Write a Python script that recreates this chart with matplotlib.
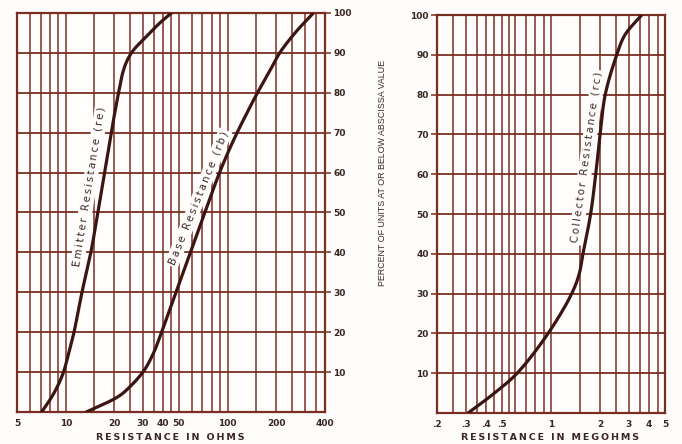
import numpy as np
import matplotlib
matplotlib.use("Agg")
import matplotlib.pyplot as plt
from matplotlib.ticker import FixedLocator, NullFormatter

# ---------------- data ----------------
emitter_ohms = [7.1, 7.83, 8.53, 9.15, 9.69, 10.48, 11.25, 12.6, 14.3, 15.8, 17.4, 19.1, 21.2, 22.5, 23.9, 26.1, 31.5, 37.9, 45.0]
emitter_pct = [0, 2.5, 5, 7.5, 10, 15, 20, 30, 40, 50, 60, 70, 80, 85, 88, 90.6, 94.1, 97.4, 100]

base_ohms = [13.4, 20.2, 23.0, 30.0, 34.8, 39.1, 48.0, 59.0, 72.6, 80.2, 89.2, 100.5, 114.5, 132.0, 153.0, 183.0, 210.0, 261.0, 339.0]
base_pct = [0, 3.4, 5, 10, 14.7, 20, 30, 40, 50, 55, 60, 65, 70, 75, 80, 85.6, 90, 95, 100]

collector_meg = [0.31, 0.45, 0.62, 0.96, 1.34, 1.49, 1.57, 1.75, 1.88, 2.0, 2.15, 2.53, 2.84, 3.6]
collector_pct = [0, 5, 10, 20, 30, 35, 40, 50, 60, 70, 80, 90, 95, 100]

ohm_ticks = [5, 10, 20, 30, 40, 50, 100, 200, 400]
ohm_labels = ["5", "10", "20", "30", "40", "50", "100", "200", "400"]
ohm_grid = [6, 7, 8, 9, 15, 25, 35, 45, 60, 70, 80, 90, 150, 250, 300, 350]

meg_ticks = [0.2, 0.3, 0.4, 0.5, 1, 2, 3, 4, 5]
meg_labels = [".2", ".3", ".4", ".5", "1", "2", "3", "4", "5"]
meg_grid = [0.25, 0.35, 0.45, 0.55, 0.6, 0.7, 0.8, 0.9, 1.5, 2.5, 3.5, 4.5]

pct_ticks = [10, 20, 30, 40, 50, 60, 70, 80, 90, 100]
pct_labels = [str(v) for v in pct_ticks]

# ---------------- style ----------------
GRID = "#7a2e22"
CURVE = "#3a1512"
TEXT = "#3b2522"
THIN = "\u2009"


def spaced(s):
    return THIN.join(s)


def smooth_path(xs, ys, sx, sy, per=20):
    """Centripetal Catmull-Rom rendering through the read points (in log-x space)."""
    P = np.column_stack([np.log10(np.asarray(xs, float)) * sx, np.asarray(ys, float) * sy])
    P = np.vstack([2 * P[0] - P[1], P, 2 * P[-1] - P[-2]])
    out = []
    for i in range(1, len(P) - 2):
        p0, p1, p2, p3 = P[i - 1], P[i], P[i + 1], P[i + 2]
        t0 = 0.0
        t1 = t0 + np.linalg.norm(p1 - p0) ** 0.5
        t2 = t1 + np.linalg.norm(p2 - p1) ** 0.5
        t3 = t2 + np.linalg.norm(p3 - p2) ** 0.5
        t = np.linspace(t1, t2, per, endpoint=False)[:, None]
        a1 = (t1 - t) / (t1 - t0) * p0 + (t - t0) / (t1 - t0) * p1
        a2 = (t2 - t) / (t2 - t1) * p1 + (t - t1) / (t2 - t1) * p2
        a3 = (t3 - t) / (t3 - t2) * p2 + (t - t2) / (t3 - t2) * p3
        b1 = (t2 - t) / (t2 - t0) * a1 + (t - t0) / (t2 - t0) * a2
        b2 = (t3 - t) / (t3 - t1) * a2 + (t - t1) / (t3 - t1) * a3
        c = (t2 - t) / (t2 - t1) * b1 + (t - t1) / (t2 - t1) * b2
        out.append(c)
    out.append(P[-2][None, :])
    C = np.vstack(out)
    return 10 ** (C[:, 0] / sx), C[:, 1] / sy


fig = plt.figure(figsize=(6.82, 4.44), dpi=100)
fig.patch.set_facecolor("#fefdfc")

W, H = 682.0, 444.0
ax1 = fig.add_axes([17 / W, 1 - 412 / H, 308 / W, 399 / H])
ax2 = fig.add_axes([437 / W, 1 - 413 / H, 228 / W, 398 / H])


def style(ax, xmin, xmax, ticks, labels, grid, yside):
    ax.set_xscale("log")
    ax.set_xlim(xmin, xmax)
    ax.set_ylim(0, 100)
    ax.set_facecolor("#fffefd")
    ax.xaxis.set_major_locator(FixedLocator(ticks))
    ax.xaxis.set_minor_locator(FixedLocator(grid))
    ax.xaxis.set_minor_formatter(NullFormatter())
    ax.set_xticklabels(labels)
    ax.set_yticks(pct_ticks)
    ax.set_yticklabels(pct_labels)
    ax.grid(True, which="both", axis="x", color=GRID, lw=1.1)
    ax.grid(True, which="major", axis="y", color=GRID, lw=1.3)
    ax.tick_params(axis="x", which="both", length=0, pad=5, labelsize=6.5,
                   labelcolor=TEXT)
    if yside == "right":
        ax.yaxis.tick_right()
    else:
        ax.yaxis.tick_left()
    ax.tick_params(axis="y", length=4, width=1.1, color=GRID, pad=2,
                   labelsize=6.5, labelcolor=TEXT)
    for lab in ax.get_xticklabels() + ax.get_yticklabels():
        lab.set_fontweight("bold")
    for s in ax.spines.values():
        s.set_color(GRID)
        s.set_linewidth(1.6)
    ax.set_axisbelow(True)


style(ax1, 5, 400, ohm_ticks, ohm_labels, ohm_grid, "right")
style(ax2, 0.2, 5, meg_ticks, meg_labels, meg_grid, "left")

lkw = dict(color=CURVE, lw=2.3, solid_joinstyle="round", solid_capstyle="round", zorder=5)
ax1.plot(*smooth_path(emitter_ohms, emitter_pct, 161.8, 3.99), **lkw)
ax1.plot(*smooth_path(base_ohms, base_pct, 161.8, 3.99), **lkw)
ax2.plot(*smooth_path(collector_meg, collector_pct, 163.1, 3.98), **lkw)

box = dict(boxstyle="square,pad=0.2", fc="#fffefd", ec="none")
tkw = dict(fontsize=7.3, color=TEXT, ha="center", va="center", bbox=box, zorder=4)
ax1.text(14.0, 56.6, spaced("Emitter Resistance (re)"), rotation=81, **tkw)
ax1.text(66.0, 53.6, spaced("Base Resistance (rb)"), rotation=68, **tkw)
ax2.text(1.66, 64.2, spaced("Collector Resistance (rc)"), rotation=82, **tkw)

xl = dict(fontsize=6.8, fontweight="bold", color=TEXT, ha="center", va="center")
fig.text(170 / W, 1 - 437 / H, spaced("RESISTANCE IN OHMS"), **xl)
fig.text(550 / W, 1 - 437 / H, spaced("RESISTANCE IN MEGOHMS"), **xl)
fig.text(383 / W, 1 - 173 / H, "PERCENT OF UNITS AT OR BELOW ABSCISSA VALUE",
         rotation=90, fontsize=6.4, family="Liberation Sans", color=TEXT,
         ha="center", va="center")

fig.savefig("out.png", dpi=100, facecolor=fig.get_facecolor())
